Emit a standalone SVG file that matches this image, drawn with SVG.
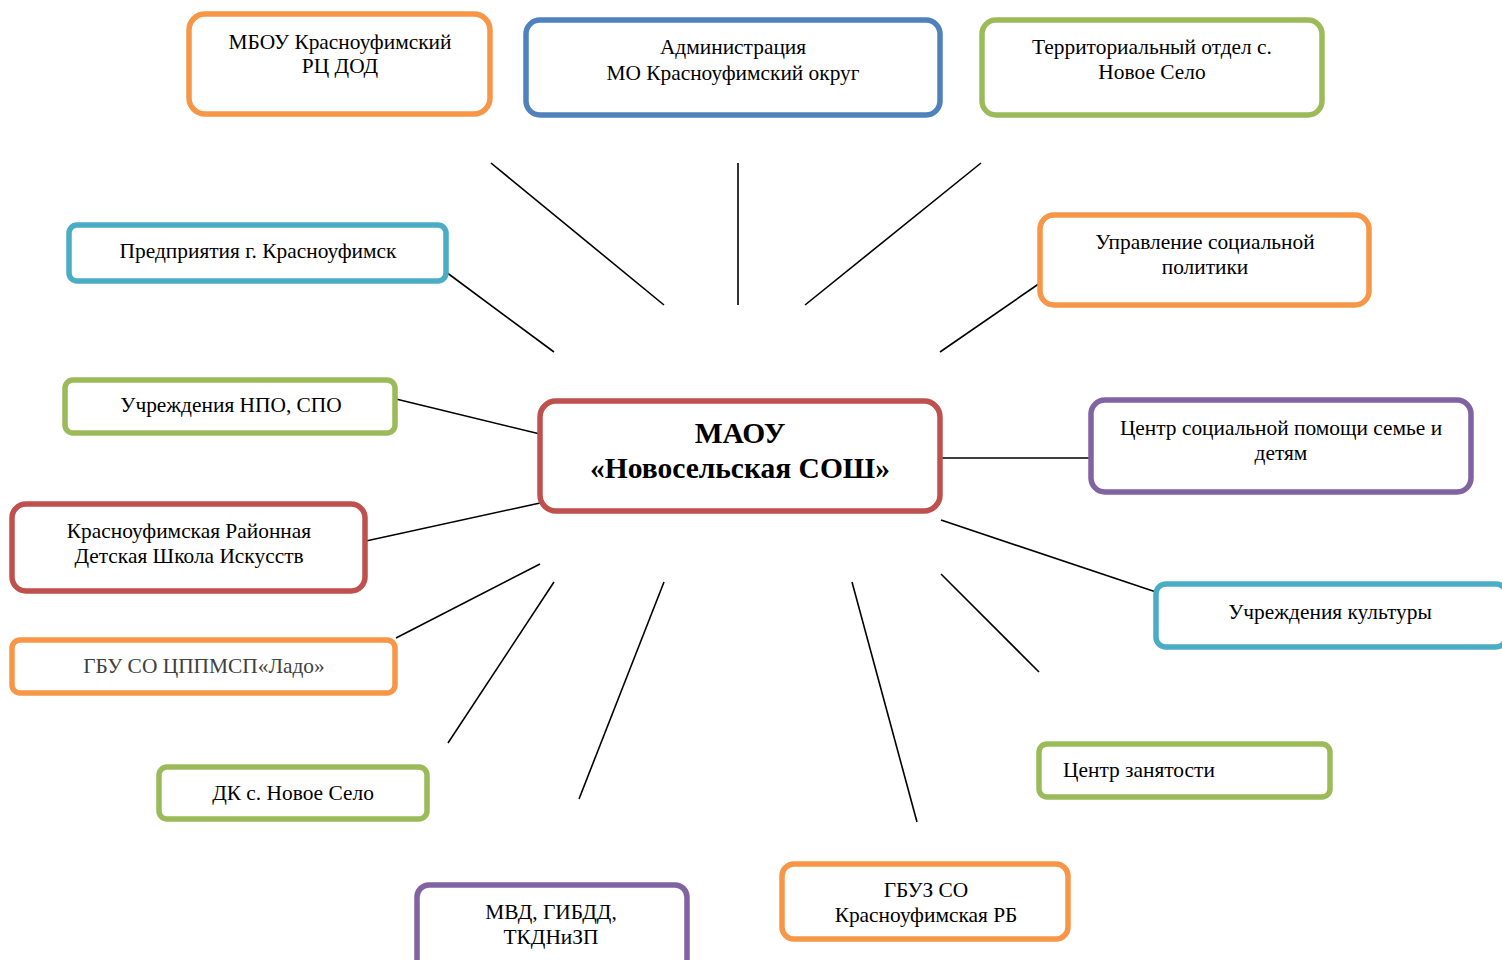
<svg xmlns="http://www.w3.org/2000/svg" width="1502" height="960" viewBox="0 0 1502 960">
<style>
.b{fill:#fff;stroke-width:5.5}
.o{stroke:#F79646}.bl{stroke:#4F81BD}.g{stroke:#9BBB59}.a{stroke:#4BACC6}.r{stroke:#C0504D}.p{stroke:#8064A2}
text{font-family:"Liberation Serif","Times New Roman",serif;font-size:21.4px;fill:#000;text-anchor:middle}
.t{font-size:29.5px;font-weight:bold}
#conn line{stroke:#000;stroke-width:1.6}
</style>
<rect width="1502" height="960" fill="#fff"/>
<g id="conn">
<line x1="491" y1="163" x2="664" y2="305"/>
<line x1="738" y1="163" x2="738" y2="305"/>
<line x1="981" y1="163" x2="805" y2="305"/>
<line x1="446" y1="272" x2="554" y2="352"/>
<line x1="1040" y1="283" x2="940" y2="352"/>
<line x1="396" y1="399" x2="540" y2="434"/>
<line x1="366" y1="541" x2="540" y2="503"/>
<line x1="941" y1="458" x2="1091" y2="458"/>
<line x1="396" y1="638" x2="540" y2="564"/>
<line x1="941" y1="520" x2="1156" y2="592"/>
<line x1="448" y1="743" x2="554" y2="582"/>
<line x1="941" y1="574" x2="1039" y2="672"/>
<line x1="579" y1="799" x2="664" y2="582"/>
<line x1="852" y1="582" x2="917" y2="822"/>
</g>
<g id="n1"><rect class="b o" x="189" y="14" width="301" height="100" rx="16"/><text x="340" y="49">МБОУ Красноуфимский</text><text x="340" y="73">РЦ ДОД</text></g>
<g id="n2"><rect class="b bl" x="526" y="20" width="414" height="95" rx="14"/><text x="733" y="54">Администрация</text><text x="733" y="80">МО Красноуфимский округ</text></g>
<g id="n3"><rect class="b g" x="982" y="20" width="340" height="95" rx="14"/><text x="1152" y="54">Территориальный отдел с.</text><text x="1152" y="79">Новое Село</text></g>
<g id="n4"><rect class="b a" x="69" y="225" width="377" height="56" rx="8"/><text x="258" y="258">Предприятия г. Красноуфимск</text></g>
<g id="n5"><rect class="b o" x="1040" y="215" width="329" height="90" rx="14"/><text x="1205" y="249">Управление социальной</text><text x="1205" y="274">политики</text></g>
<g id="n6"><rect class="b g" x="65" y="380" width="330" height="53" rx="8"/><text x="231" y="412">Учреждения НПО, СПО</text></g>
<g id="n7"><rect class="b r" x="540" y="401" width="400" height="110" rx="16"/><text class="t" x="740" y="443">МАОУ</text><text class="t" x="740" y="478">«Новосельская СОШ»</text></g>
<g id="n8"><rect class="b p" x="1091" y="400" width="380" height="92" rx="14"/><text x="1281" y="435">Центр социальной помощи семье и</text><text x="1281" y="460">детям</text></g>
<g id="n9"><rect class="b r" x="12" y="504" width="353" height="87" rx="14"/><text x="189" y="538">Красноуфимская Районная</text><text x="189" y="563">Детская Школа Искусств</text></g>
<g id="n10"><rect class="b o" x="12" y="640" width="383" height="53" rx="8"/><text x="204" y="673" style="fill:#404040">ГБУ СО ЦППМСП«Ладо»</text></g>
<g id="n11"><rect class="b a" x="1156" y="584" width="350" height="63" rx="10"/><text x="1330" y="619">Учреждения культуры</text></g>
<g id="n12"><rect class="b g" x="159" y="767" width="268" height="52" rx="8"/><text x="293" y="800">ДК с. Новое Село</text></g>
<g id="n13"><rect class="b g" x="1039" y="744" width="291" height="53" rx="8"/><text x="1063" y="777" style="text-anchor:start">Центр занятости</text></g>
<g id="n14"><rect class="b p" x="417" y="885" width="270" height="90" rx="12"/><text x="551" y="919">МВД, ГИБДД,</text><text x="551" y="944">ТКДНиЗП</text></g>
<g id="n15"><rect class="b o" x="782" y="864" width="286" height="75" rx="12"/><text x="926" y="897">ГБУЗ СО</text><text x="926" y="922">Красноуфимская РБ</text></g>
</svg>
